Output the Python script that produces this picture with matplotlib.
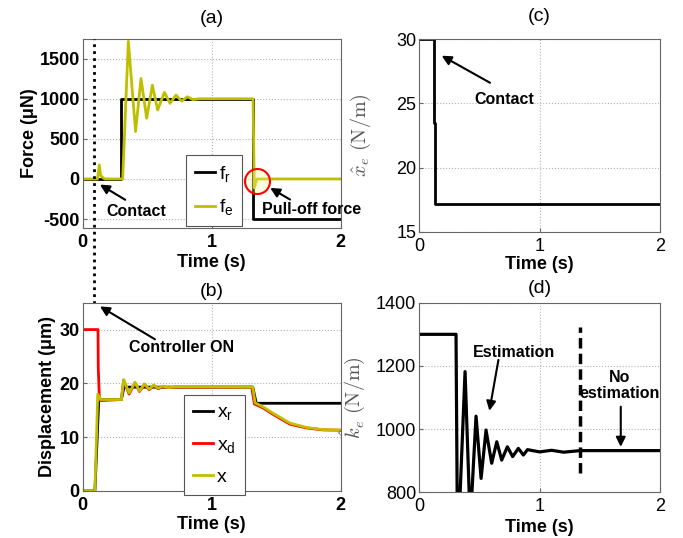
import matplotlib
matplotlib.use('Agg')
import matplotlib.pyplot as plt

plt.rcParams['font.family'] = ['Liberation Sans', 'DejaVu Sans']
plt.rcParams['mathtext.fontset'] = 'custom'
plt.rcParams['mathtext.rm'] = 'Liberation Sans'
plt.rcParams['mathtext.it'] = 'Liberation Sans:italic'
plt.rcParams['mathtext.bf'] = 'Liberation Sans:bold'

# (a) force
t_fr = [0, 0.297, 0.297, 1.318, 1.318, 2.0]
f_r = [0, 0, 1000, 1000, -500, -500]
t_fe = [0, 0.115, 0.129, 0.14, 0.17, 0.31, 0.354, 0.41, 0.452, 0.496, 0.54, 0.581,
        0.633, 0.677, 0.723, 0.767, 0.811, 0.855, 0.9, 1.32, 1.33, 1.35, 2.0]
f_e = [0, 0, 175, 40, 0, 0, 1716, 591, 1253, 757, 1170, 860,
       1080, 943, 1046, 971, 1025, 990, 1000, 1000, -110, 0, 0]

# (b) displacement
t_xr = [0, 0.095, 0.125, 0.30, 0.32, 1.318, 1.345, 2.0]
x_r = [0, 0, 17.0, 17.0, 19.3, 19.3, 16.3, 16.3]
t_xd = [0, 0.119, 0.121, 0.13, 0.30, 0.318, 0.36, 0.405, 0.44, 0.48, 0.515, 0.55,
        0.585, 0.62, 0.66, 0.72, 1.31, 1.33, 1.40, 1.478, 1.607, 1.736, 1.865, 2.0]
x_d = [30, 30, 23, 16.8, 17.0, 20.6, 18.0, 20.1, 18.5, 19.8, 18.8, 19.6,
       19.0, 19.4, 19.2, 19.3, 19.3, 16.2, 15.4, 14.2, 12.4, 11.7, 11.35, 11.3]
t_x = [0, 0.095, 0.117, 0.14, 0.30, 0.318, 0.36, 0.405, 0.44, 0.48, 0.515, 0.55,
       0.585, 0.62, 0.66, 0.72, 1.318, 1.336, 1.40, 1.478, 1.607, 1.736, 1.865, 2.0]
x = [0, 0, 18.0, 17.0, 17.0, 20.7, 18.2, 20.2, 18.6, 19.9, 18.9, 19.7,
     19.1, 19.5, 19.2, 19.35, 19.3, 16.4, 15.6, 14.4, 12.6, 11.8, 11.4, 11.3]

# (c) estimated x_e
t_xe = [0, 0.125, 0.125, 0.13, 0.13, 2.0]
xe_hat = [30, 30, 23.5, 23.5, 17.2, 17.2]

# (d) estimated k_e
t_k = [0, 0.307, 0.32, 0.382, 0.425, 0.473, 0.515, 0.556, 0.603, 0.645, 0.686,
       0.733, 0.777, 0.824, 0.866, 0.9, 1.0, 1.1, 1.2, 1.336, 2.0]
k_hat = [1300, 1300, 600, 1182, 700, 1041, 844, 997, 892, 960, 902,
         944, 913, 939, 918, 935, 928, 933, 927, 932, 932]

t_contact = 0.09
t_stop = 1.336

yel = '#bfbf00'

fig = plt.figure(figsize=(6.83, 5.38), dpi=100)
ax_a = fig.add_axes([0.121, 0.5757, 0.378, 0.3525])
ax_b = fig.add_axes([0.121, 0.0874, 0.378, 0.350])
ax_c = fig.add_axes([0.6135, 0.5688, 0.3529, 0.3587])
ax_d = fig.add_axes([0.6135, 0.0849, 0.3529, 0.3524])

for ax in [ax_a, ax_b, ax_c, ax_d]:
    ax.set_axisbelow(True)
    ax.grid(True, linestyle=':', color='#b4b4b4', lw=0.8)
    for s in ax.spines.values():
        s.set_color('#666666')
        s.set_linewidth(0.8)
    ax.tick_params(direction='in', length=3, color='#666666', pad=2)
    ax.tick_params(axis='x', pad=4)
    ax.set_xlim(0, 2)
    ax.set_xticks([0, 1, 2])

bold_ticks = dict(fontsize=13, fontweight='bold')
arr = dict(arrowstyle='-|>', color='k', lw=1.5, mutation_scale=14, shrinkA=0, shrinkB=0)
leg_kw = dict(loc='upper left', fontsize=14, fancybox=False, framealpha=1,
              edgecolor='#555555', handlelength=1.05, handletextpad=0.2,
              borderpad=0.45, labelspacing=0.7, borderaxespad=0)

# ---- (a)
ax_a.plot(t_fr, f_r, color='k', lw=2, label=r'f$_\mathrm{r}$')
ax_a.plot(t_fe, f_e, color=yel, lw=2, label=r'f$_\mathrm{e}$')
ax_a.plot([1.349], [-30], 'o', ms=18, mfc=(1, 1, 0.6, 0.3), mec='r', mew=1.5)
ax_a.set_ylim(-615, 1750)
ax_a.set_yticks([-500, 0, 500, 1000, 1500])
ax_a.set_xticklabels(['0', '1', '2'], **bold_ticks)
ax_a.set_yticklabels(['-500', '0', '500', '1000', '1500'], **bold_ticks)
ax_a.set_xlabel('Time (s)', fontsize=13, fontweight='bold', labelpad=2)
ax_a.set_ylabel('Force (\u03bcN)', fontsize=13, fontweight='bold', labelpad=1)
ax_a.set_title('(a)', fontsize=14, pad=11)
ax_a.axvline(t_contact, ymin=-1.385, ymax=1, color='k', lw=2,
             linestyle=(0, (1, 1.5)), clip_on=False, zorder=5)
ax_a.annotate('', xy=(0.134, -70), xytext=(0.33, -260), arrowprops=arr)
ax_a.text(0.415, -405, 'Contact', fontsize=11.5, fontweight='bold', ha='center', va='center')
ax_a.annotate('', xy=(1.453, -112), xytext=(1.607, -257), arrowprops=arr)
ax_a.text(1.77, -381, 'Pull-off force', fontsize=11.5, fontweight='bold', ha='center', va='center')
leg = ax_a.legend(bbox_to_anchor=(0.400, 0.386), **leg_kw)
leg.get_frame().set_linewidth(0.8)

# ---- (b)
ax_b.plot(t_xr, x_r, color='k', lw=2, label=r'x$_\mathrm{r}$')
ax_b.plot(t_xd, x_d, color='r', lw=2, label=r'x$_\mathrm{d}$')
ax_b.plot(t_x, x, color=yel, lw=2, label='x')
ax_b.set_ylim(0, 35)
ax_b.set_yticks([0, 10, 20, 30])
ax_b.set_xticklabels(['0', '1', '2'], **bold_ticks)
ax_b.set_yticklabels(['0', '10', '20', '30'], **bold_ticks)
ax_b.set_xlabel('Time (s)', fontsize=13, fontweight='bold', labelpad=2)
ax_b.set_ylabel('Displacement (\u03bcm)', fontsize=13, fontweight='bold', labelpad=3)
ax_b.set_title('(b)', fontsize=14, pad=5)
ax_b.annotate('', xy=(0.134, 34.3), xytext=(0.56, 28.2), arrowprops=arr)
ax_b.text(0.765, 26.7, 'Controller ON', fontsize=11.5, fontweight='bold', ha='center', va='center')
leg = ax_b.legend(bbox_to_anchor=(0.393, 0.51), **leg_kw)
leg.get_frame().set_linewidth(0.8)

# ---- (c)
ax_c.plot(t_xe, xe_hat, color='k', lw=2)
ax_c.set_ylim(15, 30)
ax_c.set_yticks([15, 20, 25, 30])
ax_c.tick_params(labelsize=13)
ax_c.set_xlabel('Time (s)', fontsize=13, fontweight='bold', labelpad=1)
ax_c.set_ylabel(r'$\hat{x}_e\ (\mathrm{N/m})$', fontsize=14.5, color='#555555',
                math_fontfamily='cm')
ax_c.yaxis.set_label_coords(-0.19, 0.5)
ax_c.set_title('(c)', fontsize=14, pad=13)
ax_c.annotate('', xy=(0.188, 28.7), xytext=(0.589, 26.6), arrowprops=arr)
ax_c.text(0.708, 25.3, 'Contact', fontsize=11.5, fontweight='bold', ha='center', va='center')

# ---- (d)
ax_d.plot(t_k, k_hat, color='k', lw=2.3)
ax_d.axvline(t_stop, ymin=(860 - 800) / 600, ymax=(1324 - 800) / 600, color='k', lw=2.5,
             linestyle=(0, (3, 1.5)))
ax_d.set_ylim(800, 1400)
ax_d.set_yticks([800, 1000, 1200, 1400])
ax_d.tick_params(labelsize=13)
ax_d.set_xlabel('Time (s)', fontsize=13, fontweight='bold', labelpad=3)
ax_d.set_ylabel(r'$\hat{k}_e\ (\mathrm{N/m})$', fontsize=14.5, color='#555555',
                math_fontfamily='cm')
ax_d.yaxis.set_label_coords(-0.215, 0.5)
ax_d.set_title('(d)', fontsize=14, pad=7)
ax_d.annotate('', xy=(0.584, 1058), xytext=(0.659, 1219), arrowprops=arr)
ax_d.text(0.79, 1242, 'Estimation', fontsize=11.5, fontweight='bold', ha='center', va='center')
ax_d.annotate('', xy=(1.674, 944), xytext=(1.674, 1071), arrowprops=arr)
ax_d.text(1.665, 1137, 'No\nestimation', fontsize=11.5, fontweight='bold', ha='center',
          va='center', linespacing=1.1)

fig.savefig('out.png', dpi=100)
